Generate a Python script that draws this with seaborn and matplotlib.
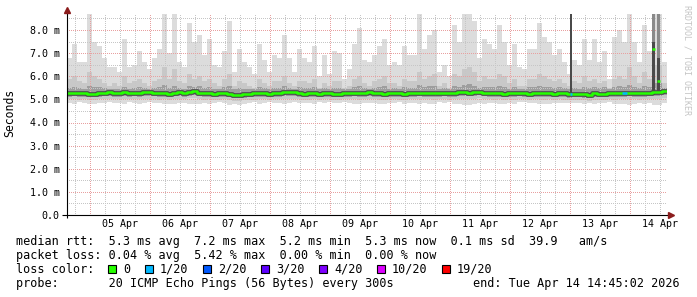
import numpy as np
import pandas as pd
import matplotlib
matplotlib.use("Agg")
import matplotlib.pyplot as plt
import matplotlib.dates as mdates
from matplotlib.patches import Rectangle
import seaborn as sns

# ---------------- data ----------------
start_time = "2026-04-04 14:45"
step = "2h"

rtt_max = [
    6.8, 7.4, 6.6, 6.6, 8.9, 7.5, 7.3, 6.8, 6.4, 6.4, 6.2, 7.6, 6.4, 6.5, 7.1, 6.6, 6.3, 6.8, 7.2, 8.9, 7.0, 8.9,
    6.6, 6.4, 8.3, 7.5, 7.8, 6.9, 7.6, 6.5, 6.4, 7.1, 8.4, 6.2, 7.2, 6.6, 6.4, 6.1, 7.4, 6.7, 6.2, 6.9, 6.8,
    7.8, 6.8, 6.2, 7.2, 6.8, 6.6, 7.3, 6.0, 6.9, 6.1, 7.1, 7.0, 5.9, 6.3, 7.4, 8.1, 6.7, 6.6, 6.9, 7.3, 7.6,
    6.5, 6.6, 6.5, 7.3, 6.9, 6.9, 8.9, 7.2, 7.8, 8.0, 6.2, 6.5, 6.0, 8.2, 7.5, 8.9, 8.9, 8.4, 6.8, 7.6, 7.4,
    7.2, 8.2, 7.5, 6.5, 7.4, 6.4, 6.3, 7.2, 7.2, 8.3, 7.7, 7.5, 6.9, 7.2, 6.6,
    6.1, 6.7, 6.5, 7.6, 6.7, 7.6, 6.6, 7.1, 5.9, 7.7, 8.0, 7.5, 8.9, 7.5, 6.6, 8.2, 7.1, 8.9, 8.9, 6.6,
]
rtt_p90 = [
    5.9, 6.0, 5.8, 5.7, 6.2, 6.0, 5.9, 5.7, 5.6, 5.7, 5.6, 6.0, 5.7, 5.8, 5.9, 5.7, 5.6, 5.8, 5.9, 6.4, 5.9, 6.3,
    5.8, 5.7, 6.1, 5.9, 6.0, 5.8, 5.9, 5.7, 5.6, 5.9, 6.1, 5.6, 5.8, 5.7, 5.6, 5.5, 5.9, 5.7, 5.6, 5.8, 5.8,
    6.0, 5.7, 5.6, 5.8, 5.8, 5.7, 5.9, 5.5, 5.7, 5.6, 5.8, 5.8, 5.5, 5.6, 5.9, 6.0, 5.7, 5.6, 5.8, 5.9, 6.0,
    5.7, 5.7, 5.6, 5.9, 5.8, 5.8, 6.2, 5.9, 6.0, 6.1, 5.6, 5.7, 5.5, 6.1, 6.0, 6.3, 6.4, 6.2, 5.8, 6.0, 5.9,
    5.9, 6.1, 6.0, 5.7, 5.9, 5.6, 5.6, 5.9, 5.9, 6.1, 6.0, 5.9, 5.8, 5.9, 5.7,
    5.6, 5.8, 5.7, 6.0, 5.8, 5.9, 5.7, 5.8, 5.5, 5.9, 6.0, 5.9, 6.4, 6.0, 5.7, 6.2, 5.9, 6.5, 6.5, 5.7,
]
rtt_p75 = [
    5.50, 5.55, 5.48, 5.47, 5.60, 5.55, 5.52, 5.48, 5.46, 5.47, 5.45, 5.55, 5.47, 5.49, 5.52, 5.48, 5.46, 5.50, 5.52, 5.62, 5.50, 5.60,
    5.48, 5.46, 5.58, 5.55, 5.56, 5.50, 5.55, 5.47, 5.46, 5.52, 5.58, 5.44, 5.50, 5.47, 5.45, 5.44, 5.53, 5.48, 5.45, 5.50, 5.49,
    5.56, 5.49, 5.45, 5.52, 5.50, 5.48, 5.53, 5.43, 5.49, 5.45, 5.51, 5.50, 5.43, 5.46, 5.53, 5.58, 5.48, 5.47, 5.50, 5.53, 5.56,
    5.47, 5.48, 5.46, 5.53, 5.50, 5.50, 5.62, 5.52, 5.57, 5.58, 5.45, 5.48, 5.44, 5.58, 5.55, 5.64, 5.65, 5.60, 5.50, 5.55, 5.53,
    5.52, 5.58, 5.55, 5.47, 5.53, 5.46, 5.45, 5.52, 5.52, 5.58, 5.55, 5.53, 5.50, 5.52, 5.48,
    5.45, 5.48, 5.47, 5.55, 5.48, 5.55, 5.48, 5.52, 5.43, 5.55, 5.57, 5.54, 5.64, 5.55, 5.48, 5.60, 5.55, 5.70, 5.70, 5.50,
]
rtt_median = [
    5.27, 5.29, 5.26, 5.28, 5.25, 5.24, 5.27, 5.28, 5.30, 5.27, 5.28, 5.32, 5.27, 5.29, 5.28, 5.30, 5.31, 5.29, 5.26, 5.28, 5.24, 5.29,
    5.30, 5.28, 5.33, 5.35, 5.29, 5.26, 5.27, 5.25, 5.26, 5.27, 5.24, 5.20, 5.19, 5.22, 5.25, 5.26, 5.28, 5.27, 5.25, 5.27, 5.28,
    5.30, 5.32, 5.31, 5.28, 5.25, 5.26, 5.27, 5.24, 5.28, 5.27, 5.25, 5.24, 5.27, 5.28, 5.29, 5.26, 5.28, 5.30, 5.27, 5.26, 5.25,
    5.27, 5.28, 5.26, 5.25, 5.27, 5.28, 5.29, 5.27, 5.28, 5.26, 5.27, 5.29, 5.26, 5.27, 5.30, 5.31, 5.29, 5.32, 5.34, 5.29, 5.27,
    5.26, 5.28, 5.25, 5.27, 5.26, 5.29, 5.28, 5.25, 5.27, 5.28, 5.26, 5.27, 5.25, 5.27, 5.26,
    5.22, 5.25, 5.24, 5.23, 5.21, 5.26, 5.25, 5.24, 5.27, 5.26, 5.28, 5.27, 5.29, 5.28, 5.26, 5.28, 5.29, 5.30, 5.32, 5.36,
]
rtt_p25 = [
    5.12, 5.13, 5.11, 5.12, 5.10, 5.09, 5.12, 5.13, 5.14, 5.12, 5.12, 5.15, 5.12, 5.13, 5.12, 5.14, 5.14, 5.13, 5.11, 5.12, 5.09, 5.13,
    5.14, 5.12, 5.16, 5.18, 5.13, 5.11, 5.12, 5.10, 5.11, 5.12, 5.09, 5.06, 5.05, 5.08, 5.10, 5.11, 5.12, 5.12, 5.10, 5.12, 5.12,
    5.14, 5.15, 5.14, 5.12, 5.10, 5.11, 5.12, 5.09, 5.12, 5.12, 5.10, 5.09, 5.12, 5.12, 5.13, 5.11, 5.12, 5.14, 5.12, 5.11, 5.10,
    5.12, 5.12, 5.11, 5.10, 5.12, 5.12, 5.13, 5.12, 5.12, 5.11, 5.12, 5.13, 5.11, 5.12, 5.14, 5.15, 5.13, 5.15, 5.17, 5.13, 5.12,
    5.11, 5.12, 5.10, 5.12, 5.11, 5.13, 5.12, 5.10, 5.12, 5.12, 5.11, 5.12, 5.10, 5.12, 5.11,
    5.08, 5.10, 5.09, 5.08, 5.07, 5.11, 5.10, 5.09, 5.12, 5.11, 5.12, 5.12, 5.13, 5.12, 5.11, 5.12, 5.13, 5.14, 5.15, 5.18,
]
rtt_p10 = [
    5.00, 5.01, 4.99, 5.00, 4.97, 4.96, 5.00, 5.01, 5.02, 5.00, 5.00, 5.03, 5.00, 5.01, 5.00, 5.02, 5.02, 5.01, 4.99, 5.00, 4.96, 5.01,
    5.02, 5.00, 5.04, 5.05, 5.01, 4.99, 5.00, 4.98, 4.99, 5.00, 4.97, 4.94, 4.93, 4.96, 4.98, 4.99, 5.00, 5.00, 4.98, 5.00, 5.00,
    5.02, 5.03, 5.02, 5.00, 4.98, 4.99, 5.00, 4.97, 5.00, 5.00, 4.98, 4.97, 5.00, 5.00, 5.01, 4.99, 5.00, 5.02, 5.00, 4.99, 4.98,
    5.00, 5.00, 4.99, 4.98, 5.00, 5.00, 5.01, 5.00, 5.00, 4.99, 5.00, 5.01, 4.99, 5.00, 5.02, 5.03, 5.01, 5.03, 5.05, 5.01, 5.00,
    4.99, 5.00, 4.98, 5.00, 4.99, 5.01, 5.00, 4.98, 5.00, 5.00, 4.99, 5.00, 4.98, 5.00, 4.99,
    4.96, 4.98, 4.97, 4.96, 4.95, 4.99, 4.98, 4.97, 5.00, 4.99, 5.00, 5.00, 5.01, 5.00, 4.99, 5.00, 5.01, 5.02, 5.03, 5.06,
]
rtt_min = [
    4.85, 4.82, 4.88, 4.86, 4.78, 4.80, 4.84, 4.86, 4.88, 4.83, 4.85, 4.80, 4.87, 4.84, 4.82, 4.86, 4.88, 4.85, 4.83, 4.78, 4.82, 4.80,
    4.86, 4.84, 4.79, 4.82, 4.80, 4.85, 4.81, 4.86, 4.87, 4.83, 4.76, 4.80, 4.74, 4.82, 4.85, 4.87, 4.81, 4.85, 4.88, 4.84, 4.85,
    4.80, 4.85, 4.88, 4.83, 4.85, 4.86, 4.82, 4.89, 4.84, 4.87, 4.83, 4.84, 4.89, 4.86, 4.81, 4.78, 4.85, 4.86, 4.84, 4.82, 4.80,
    4.86, 4.85, 4.87, 4.82, 4.84, 4.84, 4.78, 4.83, 4.80, 4.79, 4.87, 4.86, 4.88, 4.79, 4.82, 4.76, 4.75, 4.78, 4.85, 4.81, 4.83,
    4.83, 4.79, 4.81, 4.86, 4.82, 4.87, 4.87, 4.83, 4.83, 4.78, 4.80, 4.82, 4.85, 4.83, 4.86,
    4.85, 4.84, 4.86, 4.80, 4.85, 4.80, 4.86, 4.83, 4.89, 4.80, 4.78, 4.81, 4.76, 4.81, 4.86, 4.78, 4.83, 4.76, 4.76, 4.86,
]
loss = [
    0, 0, 0, 0, 0, 0, 0, 0, 0, 0, 0, 0, 0, 0, 0, 0, 0, 0, 0, 0, 0, 0,
    0, 0, 0, 0, 0, 0, 0, 0, 0, 0, 0, 0, 0, 0, 0, 0, 0, 0, 0, 0, 0,
    0, 0, 0, 0, 0, 0, 0, 0, 0, 0, 0, 0, 0, 0, 0, 0, 0, 0, 0, 0, 0,
    0, 0, 0, 0, 0, 0, 0, 0, 0, 0, 0, 0, 0, 0, 0, 0, 0, 0, 0, 0, 0,
    0, 0, 0, 0, 0, 0, 0, 0, 0, 0, 0, 0, 0, 0, 0,
    0, 0, 0, 0, 0, 0, 0, 0, 0, 0, 0, 1, 0, 0, 0, 0, 0, 0, 0, 0,
]

# short single-step outliers
spike_time = ["2026-04-13 00:30", "2026-04-14 09:25", "2026-04-14 11:40"]
spike_low = [5.22, 5.30, 5.30]
spike_mid = [8.90, 7.50, 6.80]
spike_high = [8.90, 8.90, 8.90]
spike_median = [5.22, 7.18, 5.81]
spike_loss = [1, 0, 0]

loss_levels = [0, 1, 2, 3, 4, 10, 19]
loss_labels = ["0", "1/20", "2/20", "3/20", "4/20", "10/20", "19/20"]
loss_colors = ["#26ff00", "#00b8ff", "#0059ff", "#5e00ff", "#7e00ff", "#dd00ff", "#ff0000"]

y_ticks = [0, 1, 2, 3, 4, 5, 6, 7, 8]
y_labels = ["0.0", "1.0 m", "2.0 m", "3.0 m", "4.0 m", "5.0 m", "6.0 m", "7.0 m", "8.0 m"]

legend_lines = [
    "median rtt:  5.3 ms avg  7.2 ms max  5.2 ms min  5.3 ms now  0.1 ms sd  39.9   am/s",
    "packet loss: 0.04 % avg  5.42 % max  0.00 % min  0.00 % now",
    "loss color:",
    "probe:       20 ICMP Echo Pings (56 Bytes) every 300s",
]
end_text = "end: Tue Apr 14 14:45:02 2026"
y_title = "Seconds"
watermark = "RRDTOOL / TOBI OETIKER"

n = len(rtt_max)
for arr in (rtt_p90, rtt_p75, rtt_median, rtt_p25, rtt_p10, rtt_min, loss):
    assert len(arr) == n, len(arr)

# ---------------- style ----------------
sns.set_style("white")
plt.rcParams["font.family"] = ["DejaVu Sans Mono", "DejaVu Sans"]
MONO = "DejaVu Sans Mono"

W, H = 697, 297
fig = plt.figure(figsize=(W / 100, H / 100), dpi=100)
fig.patch.set_facecolor("white")
L, R, T, B = 66.5, 666.5, 14.0, 215.0
ax = fig.add_axes([L / W, 1 - B / H, (R - L) / W, (B - T) / H])
ax.set_facecolor("white")

edges = pd.date_range(start_time, periods=n + 1, freq=step)
ext = lambda a: list(a) + [a[-1]]

def loss_color(v):
    c = loss_colors[0]
    for lv, col in zip(loss_levels, loss_colors):
        if v >= lv:
            c = col
    return c

# smoke layers
ax.fill_between(edges, ext(rtt_min), ext(rtt_max), step="post", color="#dcdcdc", lw=0, zorder=1)
ax.fill_between(edges, ext(rtt_p10), ext(rtt_p90), step="post", color="#c8c8c8", lw=0, zorder=1.1)
ax.fill_between(edges, ext(rtt_p25), ext(rtt_p75), step="post", color="#9e9e9e", lw=0, zorder=1.2)

# spikes (drawn above the grid)
sx = mdates.date2num(pd.to_datetime(spike_time))
sw = 1.1 / 24
ax.bar(sx, np.array(spike_mid) - np.array(spike_low), bottom=spike_low, width=sw,
       color="#4a4a4a", lw=0, zorder=2.8)
ax.bar(sx, np.array(spike_high) - np.array(spike_mid), bottom=spike_mid, width=sw,
       color="#8a8a8a", lw=0, zorder=2.8)

# median line
df = pd.DataFrame({"time": edges, "median": ext(rtt_median)})
sns.lineplot(data=df, x="time", y="median", ax=ax, drawstyle="steps-post", color="#4d4d4d",
             linewidth=3.4, zorder=3, legend=False, estimator=None)
sns.lineplot(data=df, x="time", y="median", ax=ax, drawstyle="steps-post", color=loss_colors[0],
             linewidth=1.8, zorder=4, legend=False, estimator=None)
ex = mdates.date2num(edges)
for i in range(n):
    if loss[i] > 0:
        ax.hlines(rtt_median[i], ex[i], ex[i + 1], color=loss_color(loss[i]), lw=1.8, zorder=4.5)
for i in range(len(sx)):
    ax.hlines(spike_median[i], sx[i] - sw / 2, sx[i] + sw / 2, color=loss_color(spike_loss[i]),
              lw=1.8, zorder=4.6)

ax.set_xlabel("")
ax.set_ylabel("")
ax.set_xlim(mdates.date2num(pd.Timestamp(start_time)), ex[-1])
ax.set_ylim(0, (B - T) / 23.125)

# y ticks / grid
ax.set_yticks(y_ticks)
ax.set_yticklabels(y_labels)
ax.set_yticks([v + 0.5 for v in y_ticks], minor=True)
# x ticks / grid
midnights = pd.date_range("2026-04-05", "2026-04-14", freq="D")
ax.set_xticks(mdates.date2num(midnights))
ax.set_xticklabels([""] * len(midnights))
minor_t, minor_l = [], []
for d in pd.date_range("2026-04-04", "2026-04-14", freq="D"):
    for h in (6, 12, 18):
        t = d + pd.Timedelta(hours=h)
        if pd.Timestamp(start_time) < t < edges[-1]:
            minor_t.append(mdates.date2num(t))
            minor_l.append(d.strftime("%d %b") if h == 12 else "")
ax.set_xticks(minor_t, minor=True)
ax.set_xticklabels(minor_l, minor=True)

dots = (0, (1, 2))
ax.set_axisbelow(False)
ax.grid(True, which="major", color="#e8a0a0", linestyle=dots, linewidth=0.72, antialiased=False)
ax.grid(True, which="minor", color="#c6c6c6", linestyle=dots, linewidth=0.72, antialiased=False)

ax.tick_params(axis="x", which="major", length=2.2, width=0.72, color="black", direction="out")
ax.tick_params(axis="x", which="minor", length=0, pad=3.0, labelsize=7.2, labelcolor="black")
ax.tick_params(axis="y", which="major", length=2.4, width=0.72, color="black", pad=2.6,
               labelsize=7.2, labelcolor="black", direction="out")
ax.tick_params(axis="y", which="minor", length=0)
for lab in ax.get_xticklabels(minor=True) + ax.get_yticklabels():
    lab.set_fontfamily(MONO)

for s in ax.spines.values():
    s.set_visible(False)

# axes lines and arrows
ax.plot([-0.0075, 1.004], [0, 0], transform=ax.transAxes, color="black", lw=0.8,
        clip_on=False, zorder=6, solid_capstyle="butt")
ax.plot([0, 0], [-0.015, 1.005], transform=ax.transAxes, color="black", lw=0.8,
        clip_on=False, zorder=6, solid_capstyle="butt")
ax.plot([1.0075], [0], marker=">", ms=4.2, color="#8b1c1c", mec="#8b1c1c",
        transform=ax.transAxes, clip_on=False, zorder=7)
ax.plot([0], [1.0175], marker="^", ms=4.2, color="#8b1c1c", mec="#8b1c1c",
        transform=ax.transAxes, clip_on=False, zorder=7)

# titles
fig.text(10 / W, 1 - 113 / H, y_title, rotation=90, ha="center", va="center",
         fontsize=8.3, family=MONO, color="black")
fig.text(687.5 / W, 1 - 5 / H, watermark, rotation=270, ha="center", va="top",
         fontsize=6.0, family=MONO, color="#c4c4c4")

# legend block
FS = 8.5
baselines = [245.5, 259.3, 273.0, 287.0]
for txt, yb in zip(legend_lines, baselines):
    fig.text(16 / W, 1 - yb / H, txt, ha="left", va="baseline", fontsize=FS, family=MONO,
             color="black")
fig.text(680 / W, 1 - baselines[3] / H, end_text, ha="right", va="baseline", fontsize=FS,
         family=MONO, color="black")

bx = 108.0
for lab, col in zip(loss_labels, loss_colors):
    fig.add_artist(Rectangle((bx / W, 1 - 273 / H), 8 / W, 8 / H, transform=fig.transFigure,
                             facecolor=col, edgecolor="black", lw=0.8))
    lx = bx + 15
    fig.text(lx / W, 1 - baselines[2] / H, lab, ha="left", va="baseline", fontsize=FS,
             family=MONO, color="black")
    bx = lx + 7 * len(lab) + 15

fig.savefig("out.png", dpi=100, facecolor="white")
